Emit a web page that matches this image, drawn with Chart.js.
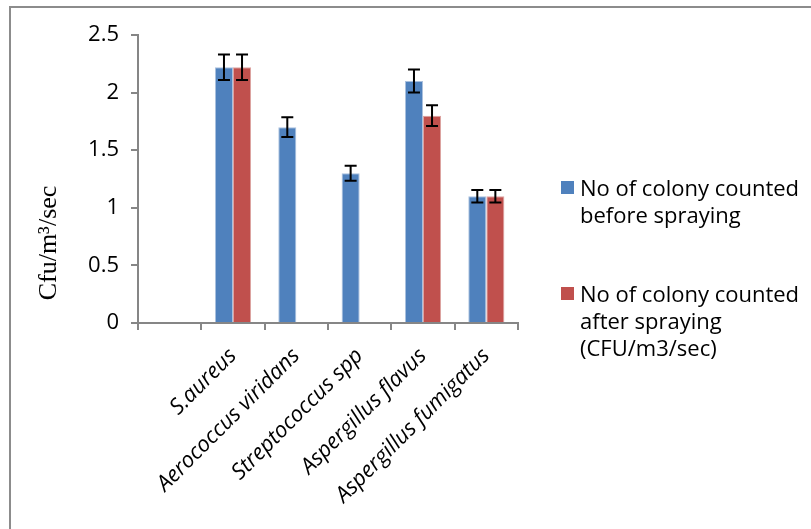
<!DOCTYPE html>
<html>
<head>
<meta charset="utf-8">
<script src="https://cdn.jsdelivr.net/npm/chart.js@4.4.0/dist/chart.umd.min.js"></script>
<style>
  body { margin: 0; background: #fff; }
  #wrap { position: relative; width: 811px; height: 529px; overflow: hidden; background: #fff; }
  #frame { position: absolute; left: 9px; top: 6px; width: 900px; height: 600px; border: 2px solid #8c8c8c; }
  #chart { position: absolute; left: 0; top: 0; }
  .lg { position: absolute; left: 561px; font-family: "Open Sans", sans-serif; font-size: 22px; line-height: 27px; color: #000; }
  .lg .box { position: absolute; left: 0; top: 7px; width: 13px; height: 13px; }
  .lg .txt { position: absolute; left: 19px; top: 0; white-space: nowrap; }
</style>
</head>
<body>
<div id="wrap">
  <div id="frame"></div>
  <canvas id="chart" width="811" height="529"></canvas>
  <div class="lg" style="top:174px"><div class="box" style="background:#4f81bd"></div><div class="txt">No of colony counted<br>before spraying</div></div>
  <div class="lg" style="top:280px"><div class="box" style="background:#c0504d"></div><div class="txt">No of colony counted<br>after spraying<br>(CFU/m3/sec)</div></div>
</div>
<script>
const categories = ['', 'S.aureus', 'Aerococcus viridans', 'Streptococcus spp', 'Aspergillus flavus', 'Aspergillus fumigatus'];
const beforeValues = [null, 2.22, 1.70, 1.30, 2.10, 1.10];
const afterValues = [null, 2.22, null, null, 1.80, 1.10];
const beforeErr = [null, 0.11, 0.085, 0.065, 0.10, 0.055];
const afterErr = [null, 0.11, null, null, 0.09, 0.055];
const yMin = 0, yMax = 2.5, yStep = 0.5;
const yTitle = 'Cfu/m\u00b3/sec';

const AXIS = '#868686';

// error bars drawn from the bar elements and the y scale
const errorBars = {
    id: 'errorBars',
    afterDatasetsDraw(chart) {
        const ctx = chart.ctx;
        const y = chart.scales.y;
        const errs = [beforeErr, afterErr];
        ctx.save();
        ctx.strokeStyle = '#000';
        ctx.lineWidth = 2;
        chart.data.datasets.forEach((ds, i) => {
            const meta = chart.getDatasetMeta(i);
            ds.data.forEach((v, j) => {
                const e = errs[i][j];
                if (v == null || e == null) return;
                const x = meta.data[j].x;
                const top = y.getPixelForValue(v + e);
                const bot = y.getPixelForValue(v - e);
                ctx.beginPath();
                ctx.moveTo(x, top); ctx.lineTo(x, bot);
                ctx.moveTo(x - 6, top); ctx.lineTo(x + 6, top);
                ctx.moveTo(x - 6, bot); ctx.lineTo(x + 6, bot);
                ctx.stroke();
            });
        });
        ctx.restore();
    }
};

const yAxisTitle = {
    id: 'yAxisTitle',
    afterDraw(chart) {
        const ctx = chart.ctx;
        ctx.save();
        ctx.translate(49, 243);
        ctx.rotate(-Math.PI / 2);
        ctx.font = '26px "Liberation Serif", "Times New Roman", serif';
        ctx.fillStyle = '#000';
        ctx.textAlign = 'center';
        ctx.textBaseline = 'middle';
        ctx.fillText(yTitle, 0, 0);
        ctx.restore();
    }
};

new Chart(document.getElementById('chart'), {
    type: 'bar',
    data: {
        labels: categories,
        datasets: [
            { label: 'No of colony counted before spraying', data: beforeValues, backgroundColor: '#4f81bd', borderColor: '#a9c0de', borderWidth: { left: 1, right: 1, top: 1 } },
            { label: 'No of colony counted after spraying (CFU/m3/sec)', data: afterValues, backgroundColor: '#c0504d', borderColor: '#dca3a1', borderWidth: { left: 1, right: 1, top: 1 } }
        ]
    },
    options: {
        responsive: false,
        devicePixelRatio: 1,
        animation: false,
        layout: { padding: { left: 78, right: 293, top: 35, bottom: 0 } },
        plugins: { legend: { display: false }, tooltip: { enabled: false } },
        datasets: { bar: { categoryPercentage: 0.57, barPercentage: 1 } },
        scales: {
            x: {
                afterFit: s => { s.height = 206; },
                grid: { offset: true, drawOnChartArea: false, color: AXIS, lineWidth: 2, tickLength: 7 },
                border: { color: AXIS, width: 2 },
                ticks: {
                    autoSkip: false, minRotation: 45, maxRotation: 45, padding: 13,
                    color: '#000', font: { family: '"Open Sans", sans-serif', size: 22, style: 'italic' }
                }
            },
            y: {
                min: yMin, max: yMax,
                afterFit: s => { s.width = 60; },
                grid: { drawOnChartArea: false, color: AXIS, lineWidth: 2, tickLength: 7 },
                border: { color: AXIS, width: 2 },
                ticks: {
                    stepSize: yStep, padding: 12, color: '#000',
                    callback: v => String(v),
                    font: { family: '"Open Sans", sans-serif', size: 22 }
                }
            }
        }
    },
    plugins: [errorBars, yAxisTitle]
});
</script>
</body>
</html>
